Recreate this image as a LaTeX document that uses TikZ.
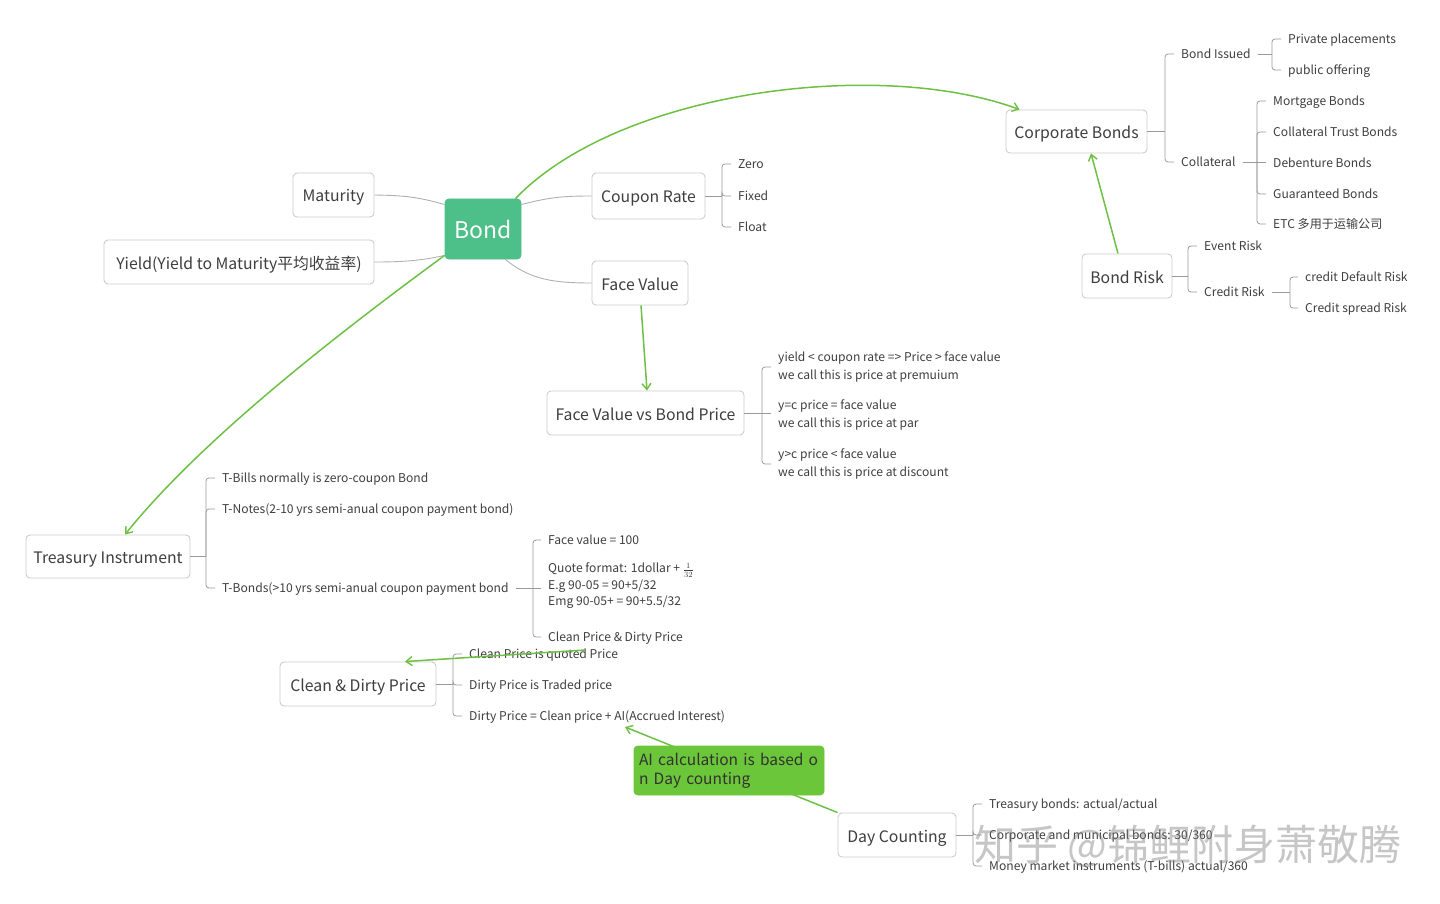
\documentclass[tikz,border=0pt]{standalone}
\usepackage{fontspec}
\setmainfont{Noto Sans CJK SC}
\usetikzlibrary{arrows.meta}
\definecolor{bondgreen}{HTML}{4DBF88}
\definecolor{aigreen}{HTML}{6CC63A}
\definecolor{arrowgreen}{HTML}{6EC044}
\definecolor{txt}{HTML}{3E3E3E}
\definecolor{boxline}{HTML}{CDCDCD}
\definecolor{brline}{HTML}{9A9A9A}
\definecolor{curveline}{HTML}{B0B0B0}
\newcommand{\leaffont}{\fontsize{12.1}{17.5}\selectfont}
\newcommand{\boxfont}{\fontsize{15.8}{20}\selectfont}
\begin{document}
\begin{tikzpicture}[x=1pt,y=-1pt,
  topic/.style={draw=boxline, line width=0.9pt, rounded corners=4pt, fill=white,
    text=txt, font=\boxfont, inner sep=0pt, align=center, text height=14pt, text depth=0pt},
  leafm/.style={anchor=west, inner xsep=7pt, inner ysep=2pt, font=\leaffont, text=txt, align=left},
  leaf/.style={leafm, text height=9pt, text depth=0pt},
  br/.style={draw=brline, line width=0.8pt, rounded corners=3pt},
  cv/.style={draw=curveline, line width=0.9pt},
  garrow/.style={draw=arrowgreen, line width=1.5pt, -{Straight Barb[length=6pt,width=9pt,line width=1.4pt]}}
]
\useasboundingbox (0,0) rectangle (1440,904);

% ---------- main topics ----------
\node[topic, fill=bondgreen, draw=bondgreen, text=white, minimum width=76pt, minimum height=60pt,
  font=\fontsize{23}{26}\selectfont, text height=19pt] (bond) at (483,229) {Bond};
\node[topic, minimum width=81pt, minimum height=44pt] (mat) at (333.5,195) {Maturity};
\node[topic, minimum width=270pt, minimum height=44pt] (yield) at (239,262) {Yield(Yield to Maturity平均收益率)};
\node[topic, minimum width=113pt, minimum height=46pt] (coupon) at (648.5,196) {Coupon Rate};
\node[topic, minimum width=96pt, minimum height=44pt] (fv) at (640,283) {Face Value};
\node[topic, minimum width=197pt, minimum height=44pt] (fvbp) at (645.5,413) {Face Value vs Bond Price};
\node[topic, minimum width=141pt, minimum height=43pt] (corp) at (1076.5,131.5) {Corporate Bonds};
\node[topic, minimum width=90pt, minimum height=44pt] (brisk) at (1127,276) {Bond Risk};
\node[topic, minimum width=164pt, minimum height=43pt] (treas) at (108,556.5) {Treasury Instrument};
\node[topic, minimum width=156pt, minimum height=44pt] (clean) at (358,684) {Clean \& Dirty Price};
\node[topic, minimum width=118pt, minimum height=44pt] (day) at (897,835) {Day Counting};

% ---------- gray curves from Bond ----------
\draw[cv] ([yshift=-6pt]bond.north west) .. controls (415,196) and (400,195.5) .. (mat.east);
\draw[cv] ([yshift=4pt]bond.south west) .. controls (420,261) and (400,262) .. (yield.east);
\draw[cv] ([yshift=-6pt]bond.north east) .. controls (550,197) and (565,196) .. (coupon.west);
\draw[cv] ([xshift=-16pt]bond.south east) .. controls (530,280) and (555,283) .. (fv.west);

% ---------- Coupon Rate children ----------
\coordinate (cr-b) at (722,196);
\node[leaf] (zero) at (731,164) {Zero};
\node[leaf] (fixed) at (731,196) {Fixed};
\node[leaf] (float) at (731,227) {Float};
\draw[br] (coupon.east) -- (cr-b);
\foreach \c in {zero,fixed,float} \draw[br] (cr-b) |- (\c.west);

% ---------- Face value vs bond price children ----------
\coordinate (fb-b) at (762,413);
\node[leafm] (prem) at (771,367) {yield < coupon rate => Price > face value\\we call this is price at premuium};
\node[leafm] (par) at (771,415) {y=c price = face value\\we call this is price at par};
\node[leafm] (disc) at (771,464) {y>c price < face value\\we call this is price at discount};
\draw[br] (fvbp.east) -- (fb-b);
\foreach \c in {prem,disc} \draw[br] (fb-b) |- (\c.west);
\draw[br] (fb-b) -- (fb-b -| par.west);

% ---------- Corporate Bonds children ----------
\coordinate (cb-b) at (1165,131.5);
\node[leaf] (issued) at (1174,54) {Bond Issued};
\node[leaf] (coll) at (1174,162) {Collateral};
\draw[br] (corp.east) -- (cb-b);
\foreach \c in {issued,coll} \draw[br] (cb-b) |- (\c.west);

\coordinate (bi-b) at (1272,54);
\node[leaf] (priv) at (1281,39) {Private placements};
\node[leaf] (pub) at (1281,70) {public offering};
\draw[br] (issued.east) -- (bi-b);
\foreach \c in {priv,pub} \draw[br] (bi-b) |- (\c.west);

\coordinate (co-b) at (1257,162);
\node[leaf] (mort) at (1266,101) {Mortgage Bonds};
\node[leaf] (ctb) at (1266,132) {Collateral Trust Bonds};
\node[leaf] (deb) at (1266,163) {Debenture Bonds};
\node[leaf] (guar) at (1266,194) {Guaranteed Bonds};
\node[leaf] (etc) at (1266,224) {ETC 多用于运输公司};
\draw[br] (coll.east) -- (co-b);
\foreach \c in {mort,ctb,guar,etc} \draw[br] (co-b) |- (\c.west);
\draw[br] (co-b) -- (co-b -| deb.west);

% ---------- Bond Risk children ----------
\coordinate (br-b) at (1188,276);
\node[leaf] (event) at (1197,246) {Event Risk};
\node[leaf] (credit) at (1197,292) {Credit Risk};
\draw[br] (brisk.east) -- (br-b);
\foreach \c in {event,credit} \draw[br] (br-b) |- (\c.west);

\coordinate (cr2-b) at (1290,292);
\node[leaf] (cdef) at (1298,277) {credit Default Risk};
\node[leaf] (cspr) at (1298,308) {Credit spread Risk};
\draw[br] (credit.east) -- (cr2-b);
\foreach \c in {cdef,cspr} \draw[br] (cr2-b) |- (\c.west);

% ---------- Treasury children ----------
\coordinate (ti-b) at (206,556.5);
\node[leaf] (tbills) at (215,478) {T-Bills normally is zero-coupon Bond};
\node[leaf] (tnotes) at (215,509) {T-Notes(2-10 yrs semi-anual coupon payment bond)};
\node[leaf] (tbonds) at (215,588) {T-Bonds(>10 yrs semi-anual coupon payment bond};
\draw[br] (treas.east) -- (ti-b);
\foreach \c in {tbills,tnotes,tbonds} \draw[br] (ti-b) |- (\c.west);

\coordinate (tb-b) at (533,588);
\node[leaf] (fv100) at (541,540) {Face value = 100};
\node[leafm, font=\fontsize{12.1}{16.5}\selectfont] (quote) at (541,586) {Quote format: 1dollar + $\frac{1}{32}$\\E.g 90-05 = 90+5/32\\Emg 90-05+ = 90+5.5/32};
\node[leaf] (cpdp) at (541,637) {Clean Price \& Dirty Price};
\draw[br] (tbonds.east) -- (tb-b);
\foreach \c in {fv100,cpdp} \draw[br] (tb-b) |- (\c.west);
\draw[br] (tb-b) -- (tb-b -| quote.west);

% ---------- Clean & Dirty children ----------
\coordinate (cd-b) at (453,684);
\node[leaf] (cpq) at (462,654) {Clean Price is quoted Price};
\node[leaf] (dpt) at (462,685) {Dirty Price is Traded price};
\node[leaf] (dpe) at (462,716) {Dirty Price = Clean price + AI(Accrued Interest)};
\draw[br] (clean.east) -- (cd-b);
\foreach \c in {cpq,dpt,dpe} \draw[br] (cd-b) |- (\c.west);

% ---------- Day counting children ----------
\coordinate (dc-b) at (973,835);
\node[leaf] (tba) at (982,804) {Treasury bonds: actual/actual};
\node[leaf] (corpm) at (982,835) {Corporate and municipal bonds: 30/360};
\node[leaf] (mmi) at (982,866) {Money market instruments (T-bills) actual/360};
\draw[br] (day.east) -- (dc-b);
\foreach \c in {tba,corpm,mmi} \draw[br] (dc-b) |- (\c.west);

% ---------- green relationships ----------
\draw[garrow] ([xshift=-6pt]bond.north east) .. controls (620,90) and (880,58) .. ([xshift=14pt]corp.north west);
\draw[garrow] ([xshift=-9pt]brisk.north) -- ([xshift=14.5pt]corp.south);
\draw[garrow] ([yshift=4pt]bond.south west) .. controls (350,325) and (205,435) .. ([xshift=17pt]treas.north);
\draw[garrow] ([xshift=1pt]fv.south) -- ([xshift=1.5pt]fvbp.north);
\draw[garrow] ([shift={(44,13)}]cpdp.west) -- ([xshift=47pt]clean.north);
\draw[garrow] (day.north west) -- ([shift={(163,11)}]dpe.west);
\node[topic, fill=aigreen, draw=aigreen, minimum width=190pt, minimum height=49pt, align=left,
  text width=180pt, text height=, text depth=, text=txt!80!black, font=\fontsize{15.5}{19}\selectfont] (ai) at (729,770.5)
  {AI calculation is based o\\n Day counting};

% ---------- watermark ----------
\node[text=gray, opacity=0.45, font=\fontsize{42}{42}\selectfont, inner sep=0pt] (wm) at (1188,846) {知乎 @锦鲤附身萧敬腾};
\end{tikzpicture}
\end{document}
